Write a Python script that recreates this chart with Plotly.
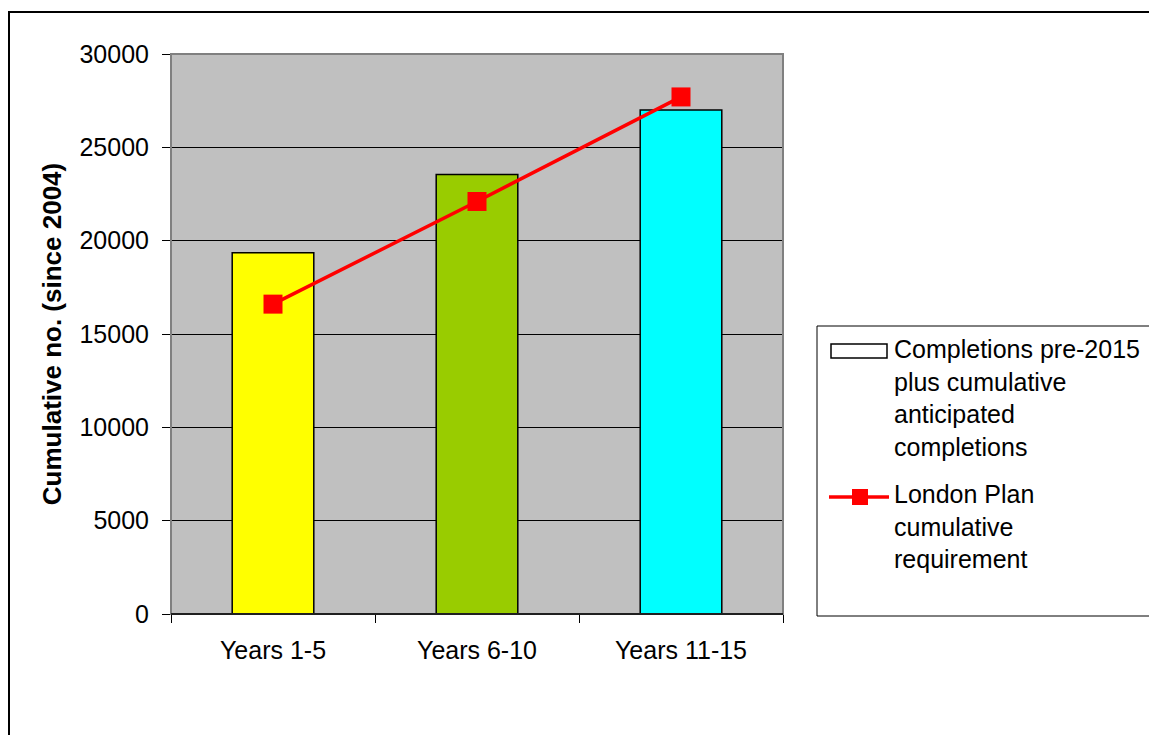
import plotly.graph_objects as go

categories = ["Years 1-5", "Years 6-10", "Years 11-15"]
completions = [19350, 23550, 27000]
requirement = [16600, 22100, 27700]
bar_colors = ["#FFFF00", "#99CC00", "#00FFFF"]
legend_labels = [
    "Completions pre-2015<br>plus cumulative<br>anticipated<br>completions",
    "London Plan<br>cumulative<br>requirement",
]

W, H = 1149, 735
L, R, T, B = 171, 783, 54, 614  # plot area in pixels
FONT = "Arial, Liberation Sans, sans-serif"


def px(x):
    return (x - L) / (R - L)


def py(y):
    return (B - y) / (B - T)


fig = go.Figure()
fig.add_trace(go.Bar(
    x=categories, y=completions, name="Completions pre-2015 plus cumulative anticipated completions",
    marker=dict(color=bar_colors, line=dict(color="black", width=1.5)),
    showlegend=False,
))
fig.add_trace(go.Scatter(
    x=categories, y=requirement, mode="lines+markers",
    name="London Plan cumulative requirement",
    line=dict(color="#FF0000", width=3.5),
    marker=dict(symbol="square", size=19, color="#FF0000"),
    showlegend=False,
))

shapes = [
    # outer border
    dict(type="rect", xref="paper", yref="paper", x0=px(9), x1=px(1170), y0=py(760), y1=py(12),
         line=dict(color="black", width=2), fillcolor="rgba(0,0,0,0)", layer="below"),
    # plot area border (grey)
    dict(type="rect", xref="paper", yref="paper", x0=0, x1=1, y0=0, y1=1,
         line=dict(color="#808080", width=2), fillcolor="rgba(0,0,0,0)", layer="above"),
    # bottom axis line black
    dict(type="line", xref="paper", yref="paper", x0=0, x1=1, y0=0, y1=0,
         line=dict(color="black", width=1.5), layer="above"),
    # legend box
    dict(type="rect", xref="paper", yref="paper", x0=px(817), x1=px(1170), y0=py(616), y1=py(326),
         line=dict(color="black", width=1), fillcolor="white"),
    # legend bar symbol
    dict(type="rect", xref="paper", yref="paper", x0=px(831), x1=px(887), y0=py(358), y1=py(344),
         line=dict(color="black", width=1.5), fillcolor="white"),
    # legend line symbol
    dict(type="line", xref="paper", yref="paper", x0=px(829), x1=px(889), y0=py(497), y1=py(497),
         line=dict(color="#FF0000", width=3.5)),
    dict(type="rect", xref="paper", yref="paper", x0=px(852), x1=px(868), y0=py(505), y1=py(489),
         line=dict(color="#FF0000", width=0), fillcolor="#FF0000"),
]

annotations = [
    dict(text=legend_labels[0], xref="paper", yref="paper", x=px(892), y=py(333),
         xanchor="left", yanchor="top", align="left", showarrow=False,
         font=dict(family=FONT, size=25, color="black")),
    dict(text=legend_labels[1], xref="paper", yref="paper", x=px(892), y=py(478),
         xanchor="left", yanchor="top", align="left", showarrow=False,
         font=dict(family=FONT, size=25, color="black")),
]

fig.update_layout(
    width=W, height=H,
    margin=dict(l=L, r=W - R, t=T, b=H - B, autoexpand=False),
    paper_bgcolor="white",
    plot_bgcolor="#C0C0C0",
    bargap=0.6,
    font=dict(family=FONT, size=25, color="black"),
    shapes=shapes,
    annotations=annotations,
    xaxis=dict(
        type="category", tickson="boundaries", ticks="outside", ticklen=8,
        tickcolor="black", tickwidth=1, showgrid=False, showline=False,
        tickfont=dict(family=FONT, size=25, color="black"),
        ticklabelstandoff=19, automargin=False,
    ),
    yaxis=dict(
        range=[0, 30000], dtick=5000, tickmode="linear", tick0=0, tickformat="d",
        ticks="outside", ticklen=8, tickcolor="black", tickwidth=1,
        showgrid=True, gridcolor="black", gridwidth=1, zeroline=False,
        showline=False,
        tickfont=dict(family=FONT, size=25, color="black"),
        ticklabelstandoff=8, automargin=False,
        title=dict(text="<b>Cumulative no. (since 2004)</b>",
                   font=dict(family=FONT, size=26, color="black"), standoff=10),
    ),
)

fig.write_html("out.html")
